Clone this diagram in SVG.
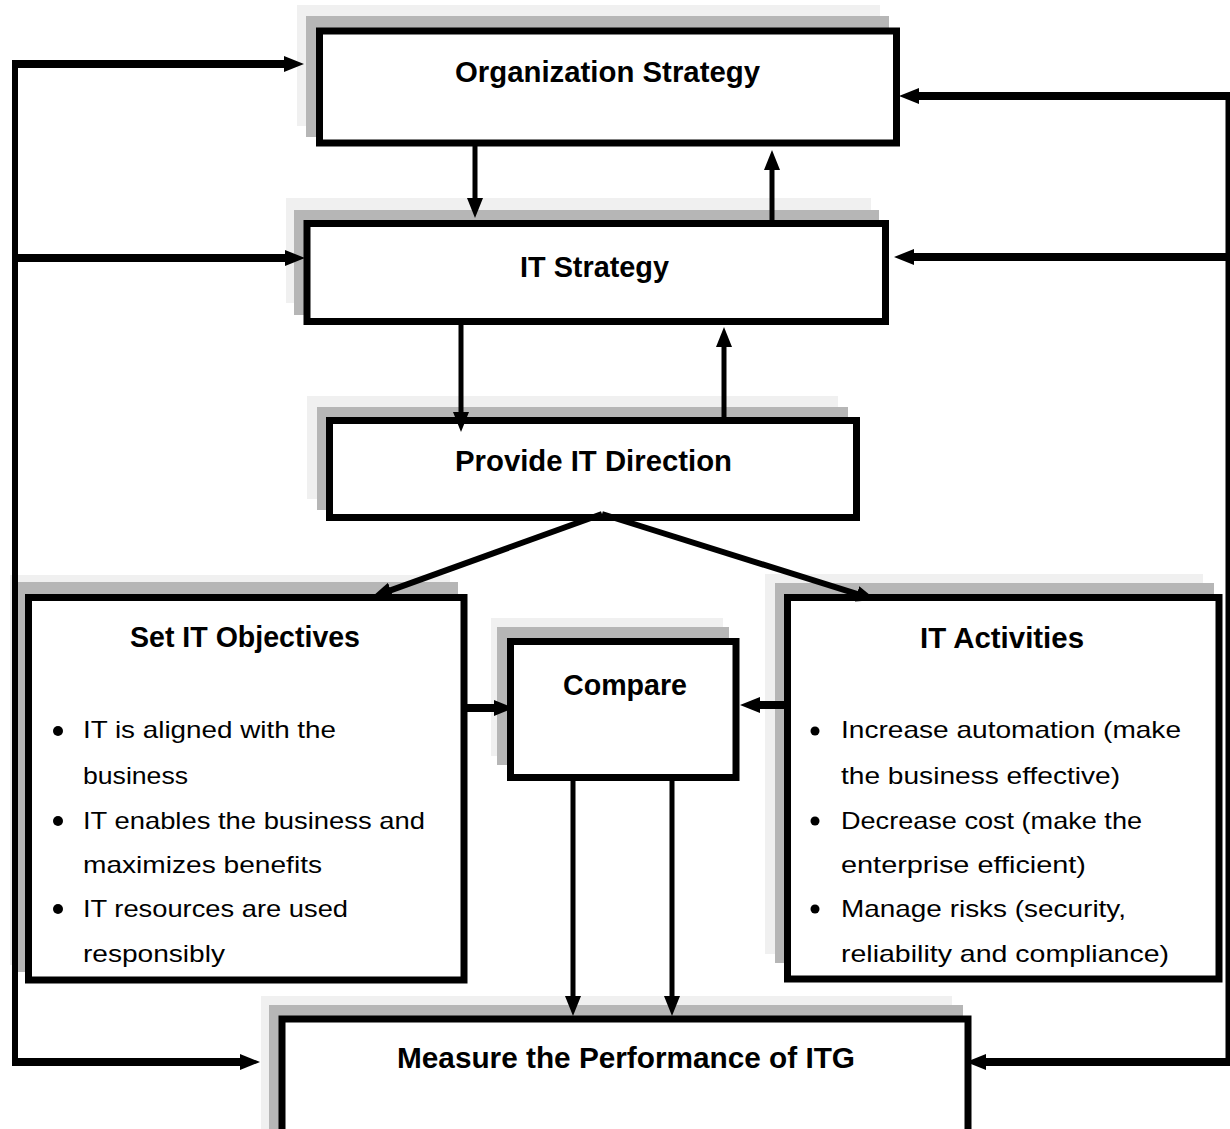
<svg xmlns="http://www.w3.org/2000/svg" width="1230" height="1129" viewBox="0 0 1230 1129">
<defs>
<style>
.sh1{fill:#f0f0f0}
.sh2{fill:#b6b6b6}
.box{fill:#fff;stroke:#000;stroke-width:7}
.t{font-family:"Liberation Sans",Arial,sans-serif;font-weight:bold;font-size:29px;fill:#000}
.b{font-family:"Liberation Sans",Arial,sans-serif;font-size:24px;fill:#000}
.c{fill:none;stroke:#000}
.w8{stroke-width:8}
.w6{stroke-width:6}
.w5{stroke-width:5}
</style>
<marker id="ah" markerUnits="userSpaceOnUse" markerWidth="20" markerHeight="16" refX="4" refY="8" orient="auto" viewBox="0 0 20 16">
<path d="M0,0 L20,8 L0,16 Z" fill="#000"/>
</marker>
</defs>
<rect width="1230" height="1129" fill="#fff"/>

<g id="org-strategy">
<rect class="sh1" x="297" y="5" width="583" height="121"/>
<rect class="sh2" x="306" y="16" width="583" height="121"/>
<rect class="box" x="319.5" y="31" width="577" height="112"/>
<text class="t" x="455" y="82" textLength="305" lengthAdjust="spacingAndGlyphs">Organization Strategy</text>
</g>

<g id="it-strategy">
<rect class="sh1" x="286" y="198" width="585" height="105"/>
<rect class="sh2" x="294" y="210" width="585" height="105"/>
<rect class="box" x="307" y="223.5" width="578.5" height="98"/>
<text class="t" x="520" y="277" textLength="149" lengthAdjust="spacingAndGlyphs">IT Strategy</text>
</g>

<g id="provide-it-direction">
<rect class="sh1" x="307" y="396" width="531" height="103"/>
<rect class="sh2" x="317" y="407" width="531" height="103"/>
<rect class="box" x="329.5" y="420.5" width="527" height="97"/>
<text class="t" x="455" y="471" textLength="277" lengthAdjust="spacingAndGlyphs">Provide IT Direction</text>
</g>

<g id="set-it-objectives">
<rect class="sh1" x="10" y="575" width="440" height="390"/>
<rect class="sh2" x="18" y="582" width="440" height="390"/>
<rect class="box" x="28.5" y="597.5" width="435.5" height="382.5"/>
<text class="t" x="130" y="647" textLength="230" lengthAdjust="spacingAndGlyphs">Set IT Objectives</text>
<circle cx="58" cy="731" r="5"/>
<text class="b" x="83" y="738" textLength="253" lengthAdjust="spacingAndGlyphs">IT is aligned with the</text>
<text class="b" x="83" y="784" textLength="105" lengthAdjust="spacingAndGlyphs">business</text>
<circle cx="58" cy="821" r="5"/>
<text class="b" x="83" y="829" textLength="342" lengthAdjust="spacingAndGlyphs">IT enables the business and</text>
<text class="b" x="83" y="873" textLength="239" lengthAdjust="spacingAndGlyphs">maximizes benefits</text>
<circle cx="58" cy="909" r="5"/>
<text class="b" x="83" y="917" textLength="265" lengthAdjust="spacingAndGlyphs">IT resources are used</text>
<text class="b" x="83" y="962" textLength="142" lengthAdjust="spacingAndGlyphs">responsibly</text>
</g>

<g id="compare">
<rect class="sh1" x="491" y="618" width="232" height="138"/>
<rect class="sh2" x="497" y="627" width="232" height="138"/>
<rect class="box" x="510.5" y="641.5" width="225.5" height="136"/>
<text class="t" x="563" y="695" textLength="124" lengthAdjust="spacingAndGlyphs">Compare</text>
</g>

<g id="it-activities">
<rect class="sh1" x="765" y="574" width="438" height="380"/>
<rect class="sh2" x="775" y="583" width="439" height="380"/>
<rect class="box" x="787.5" y="597.5" width="431.5" height="381.5"/>
<text class="t" x="920" y="648" textLength="164" lengthAdjust="spacingAndGlyphs">IT Activities</text>
<circle cx="815" cy="731" r="4.5"/>
<text class="b" x="841" y="738" textLength="340" lengthAdjust="spacingAndGlyphs">Increase automation (make</text>
<text class="b" x="841" y="784" textLength="279" lengthAdjust="spacingAndGlyphs">the business effective)</text>
<circle cx="815" cy="821" r="4.5"/>
<text class="b" x="841" y="829" textLength="301" lengthAdjust="spacingAndGlyphs">Decrease cost (make the</text>
<text class="b" x="841" y="873" textLength="245" lengthAdjust="spacingAndGlyphs">enterprise efficient)</text>
<circle cx="815" cy="909" r="4.5"/>
<text class="b" x="841" y="917" textLength="285" lengthAdjust="spacingAndGlyphs">Manage risks (security,</text>
<text class="b" x="841" y="962" textLength="328" lengthAdjust="spacingAndGlyphs">reliability and compliance)</text>
</g>

<g id="measure-performance">
<rect class="sh1" x="261" y="996" width="691" height="160"/>
<rect class="sh2" x="269" y="1005" width="694" height="160"/>
<rect class="box" x="282" y="1019" width="686" height="140"/>
<text class="t" x="397" y="1068" textLength="458" lengthAdjust="spacingAndGlyphs">Measure the Performance of ITG</text>
</g>

<g id="connectors">
<path class="c w6" d="M15,1062 V64" stroke-linejoin="round"/>
<line class="c w8" x1="12" y1="64" x2="288" y2="64" marker-end="url(#ah)"/>
<line class="c w8" x1="15" y1="258" x2="289" y2="258" marker-end="url(#ah)"/>
<line class="c w8" x1="12" y1="1062" x2="244" y2="1062" marker-end="url(#ah)"/>

<line class="c w5" x1="1228" y1="93" x2="1228" y2="1065"/>
<line class="c w8" x1="1230" y1="96" x2="915" y2="96" marker-end="url(#ah)"/>
<line class="c w8" x1="1230" y1="257" x2="910" y2="257" marker-end="url(#ah)"/>
<line class="c w8" x1="1230" y1="1062" x2="982" y2="1062" marker-end="url(#ah)"/>

<line class="c w5" x1="475" y1="146" x2="475" y2="202" marker-end="url(#ah)"/>
<line class="c w5" x1="772" y1="221" x2="772" y2="166" marker-end="url(#ah)"/>
<line class="c w5" x1="461" y1="324" x2="461" y2="416" marker-end="url(#ah)"/>
<line class="c w5" x1="724" y1="418" x2="724" y2="343" marker-end="url(#ah)"/>

<line class="c w6" x1="602" y1="514" x2="387" y2="591.6" marker-end="url(#ah)"/>
<line class="c w6" x1="602" y1="514" x2="860.7" y2="595.2" marker-end="url(#ah)"/>

<line class="c w8" x1="466" y1="708" x2="498" y2="708" marker-end="url(#ah)"/>
<line class="c w8" x1="786" y1="705" x2="756" y2="705" marker-end="url(#ah)"/>

<line class="c w5" x1="573" y1="779" x2="573" y2="1000" marker-end="url(#ah)"/>
<line class="c w5" x1="672" y1="779" x2="672" y2="1000" marker-end="url(#ah)"/>
</g>
</svg>
